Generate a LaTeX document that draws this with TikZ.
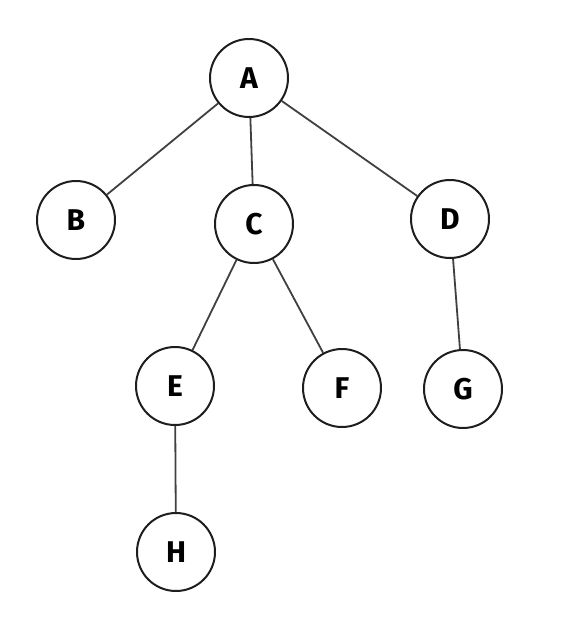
\documentclass[tikz,border=0pt]{standalone}
\usepackage{fontspec}
\setsansfont{Fira Sans}
\usepackage{tikz}
\usepackage{xcolor}
\definecolor{inkgray}{HTML}{1E1E1E}

\begin{document}
\begin{tikzpicture}[x=1pt, y=-1pt,
    vertex/.style={circle, draw=inkgray, line width=2pt, minimum size=78pt, inner sep=0pt,
      font=\sffamily\bfseries\fontsize{30}{34}\selectfont},
    branch/.style={draw=inkgray!85, line width=1.8pt}]
  \useasboundingbox (0,0) rectangle (586,628);
  % Nodes
  \node[vertex] (A) at (249,78)  {A};
  \node[vertex] (B) at (76,220)  {B};
  \node[vertex] (C) at (254,224) {C};
  \node[vertex] (D) at (450,219) {D};
  \node[vertex] (E) at (175,386) {E};
  \node[vertex] (F) at (342,388) {F};
  \node[vertex] (G) at (463,389) {G};
  \node[vertex] (H) at (176,552) {H};
  % Edges
  \draw[branch] (A) -- (B);
  \draw[branch] (A) -- (C);
  \draw[branch] (A) -- (D);
  \draw[branch] (C) -- (E);
  \draw[branch] (C) -- (F);
  \draw[branch] (D) -- (G);
  \draw[branch] (E) -- (H);
\end{tikzpicture}
\end{document}
